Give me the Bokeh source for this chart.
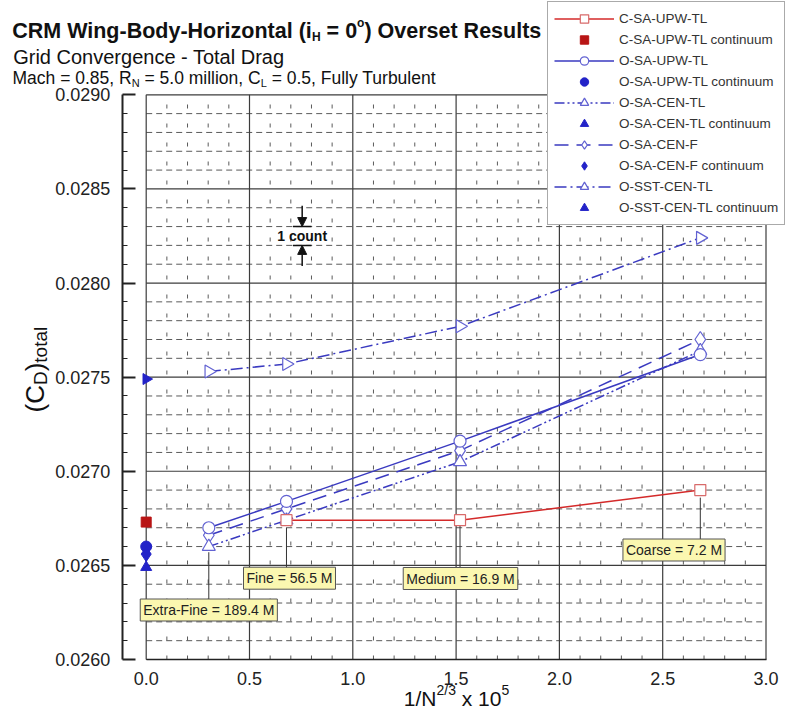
import numpy as np
from bokeh.plotting import figure
from bokeh.models import (Range1d, Label, Legend, LegendItem, FixedTicker,
                          PrintfTickFormatter, Arrow, NormalHead)
from bokeh.embed import file_html
from bokeh.resources import INLINE

# ---------------- data ----------------
grid_labels = ["Extra-Fine = 189.4 M", "Fine = 56.5 M", "Medium = 16.9 M", "Coarse = 7.2 M"]
grid_x = [0.303, 0.679, 1.519, 2.682]           # 1/N^(2/3) x 10^5
c_sa_upw_tl_x = [0.679, 1.519, 2.682]
c_sa_upw_tl = [0.02674, 0.02674, 0.02690]
o_sa_upw_tl = [0.02670, 0.02684, 0.02716, 0.02762]
o_sa_cen_tl = [0.02660, 0.02674, 0.02705, 0.02764]
o_sa_cen_f = [0.02666, 0.02680, 0.02711, 0.02770]
o_sst_cen_tl = [0.02753, 0.02757, 0.02777, 0.02824]
cont_x = [0.0]
c_sa_upw_tl_cont = [0.02673]
o_sa_upw_tl_cont = [0.02660]
o_sa_cen_tl_cont = [0.02649]
o_sa_cen_f_cont = [0.02656]
o_sst_cen_tl_cont = [0.02749]
x_ticks = [0.0, 0.5, 1.0, 1.5, 2.0, 2.5, 3.0]
y_ticks = [0.0260, 0.0265, 0.0270, 0.0275, 0.0280, 0.0285, 0.0290]

# ---------------- layout (frame covers whole canvas) ----------------
W, H = 787, 712
PX0, PX3 = 145.7, 765.5          # pixel of x = 0 and x = 3
PYT, PYB = 94.3, 659.0           # pixel of y = 0.0290 and y = 0.0260
SX = (PX3 - PX0) / 3.0
SY = (PYB - PYT) / 0.003
X0, X1 = -PX0 / SX, (W - PX0) / SX
Y1, Y0 = 0.0290 + PYT / SY, 0.0260 - (H - PYB) / SY


def dx(ix):  # canvas pixel x -> data x
    return X0 + ix / W * (X1 - X0)


def dy(iy):  # canvas pixel y -> data y
    return Y1 - iy / H * (Y1 - Y0)


FONT = "Liberation Sans"
REG = {' ': 278, '(': 333, ')': 333, ',': 278, '-': 333, '.': 278, '/': 278, '=': 584,
       'A': 667, 'B': 667, 'C': 722, 'D': 722, 'E': 667, 'F': 611, 'G': 778, 'H': 722,
       'L': 556, 'M': 833, 'N': 722, 'O': 778, 'R': 722, 'S': 667, 'T': 611, 'U': 722,
       'W': 944, 'a': 556, 'b': 556, 'c': 500, 'd': 556, 'e': 556, 'g': 556, 'h': 556,
       'i': 222, 'l': 222, 'm': 833, 'n': 556, 'o': 556, 'r': 333, 's': 500, 't': 278,
       'u': 556, 'v': 500, 'x': 500, 'y': 500}
BOLD = {' ': 278, '(': 333, ')': 333, '-': 333, '=': 584, 'B': 722, 'C': 722, 'H': 722,
        'M': 833, 'O': 778, 'R': 722, 'W': 944, 'a': 556, 'd': 611, 'e': 556, 'g': 611,
        'i': 278, 'l': 278, 'n': 611, 'o': 611, 'r': 389, 's': 556, 't': 333, 'u': 611,
        'y': 556, 'z': 500}


def tw(s, size, bold=False):
    tab = BOLD if bold else REG
    return sum(tab.get(c, 556) for c in s) / 1000.0 * size


p = figure(width=W, height=H, x_range=Range1d(X0, X1), y_range=Range1d(Y0, Y1),
           output_backend="svg", toolbar_location=None)
p.min_border = 0
p.min_border_left = 0
p.min_border_right = 0
p.min_border_top = 0
p.min_border_bottom = 0
p.outline_line_color = None
p.xgrid.visible = False
p.ygrid.visible = False
p.background_fill_color = "white"
p.border_fill_color = "white"

# ---------------- grid ----------------
xs_all = np.round(np.arange(0, 30.5, 1) / 10.0, 4)
xs_major = [v for v in xs_all if abs(v * 2 - round(v * 2)) < 1e-9]
xs_minor = [v for v in xs_all if v not in xs_major]
ys_all = np.round(np.arange(260, 290.5, 1) / 10000.0, 6)
ys_major = [v for v in ys_all if abs(v * 2000 - round(v * 2000)) < 1e-6]
ys_minor = [v for v in ys_all if v not in ys_major]

GRID_C = "#5a5a5a"
p.segment(x0=xs_minor, y0=0.0260, x1=xs_minor, y1=0.0290, line_color=GRID_C, line_width=1, line_dash="4 15")
p.segment(x0=0.0, y0=ys_minor, x1=3.0, y1=ys_minor, line_color=GRID_C, line_width=1, line_dash="6 4")
p.segment(x0=xs_major, y0=0.0260, x1=xs_major, y1=0.0290, line_color="#3c3c3c", line_width=1.2)
p.segment(x0=0.0, y0=ys_major, x1=3.0, y1=ys_major, line_color="#3c3c3c", line_width=1.2)

# ---------------- axes (drawn at fixed positions inside the canvas) ----------------
xa = p.xaxis[0]
xa.fixed_location = 0.0260
xa.bounds = (0, 3.0)
xa.ticker = FixedTicker(ticks=x_ticks, minor_ticks=xs_minor)
xa.formatter = PrintfTickFormatter(format="%.1f")
xa.major_tick_in = 0
xa.major_tick_out = 0
xa.minor_tick_in = 0
xa.minor_tick_out = 0
xa.axis_line_color = "#222222"
xa.axis_line_width = 1.5
xa.major_label_text_font = FONT
xa.major_label_text_font_size = "18px"
xa.major_label_text_color = "#222222"
xa.major_label_standoff = 12

ya = p.yaxis[0]
ya.fixed_location = dx(121.7)
ya.bounds = (0.0260, 0.0290)
ya.ticker = FixedTicker(ticks=y_ticks, minor_ticks=ys_minor)
ya.formatter = PrintfTickFormatter(format="%.4f")
ya.major_tick_in = 13
ya.major_tick_out = 0
ya.minor_tick_in = 5
ya.minor_tick_out = 0
ya.axis_line_color = "#222222"
ya.axis_line_width = 2
ya.major_tick_line_color = "#222222"
ya.major_tick_line_width = 2
ya.minor_tick_line_color = "#222222"
ya.major_label_text_font = FONT
ya.major_label_text_font_size = "18px"
ya.major_label_text_color = "#222222"
ya.major_label_standoff = 12

# ---------------- leader lines for grid callouts ----------------
lead_top = [0.02657, 0.02670, 0.02671, 0.02686]
box_cx = [dx(208.3), dx(289), dx(460), dx(673.5)]
box_cy = [dy(609.5), dy(577.7), dy(578), dy(549.5)]
p.segment(x0=grid_x, y0=lead_top, x1=grid_x, y1=box_cy, line_color="#333333", line_width=1)

# ---------------- series ----------------
RED = "#d42a2a"
RED_M = "#d86a6a"
BLUE = "#3a3ac0"
BLUE_M = "#6262d2"
BLUE_F = "#2323c8"

r_sst_l = p.line(grid_x, o_sst_cen_tl, line_color=BLUE, line_width=1.5, line_dash="12 4 2 4")
r_sst_m = p.scatter(grid_x, o_sst_cen_tl, marker="triangle", angle=-np.pi / 2, size=13,
                    fill_color="white", line_color=BLUE_M, line_width=1.2)
r_f_l = p.line(grid_x, o_sa_cen_f, line_color=BLUE, line_width=1.5, line_dash="14 8")
r_f_m = p.scatter(grid_x, o_sa_cen_f, marker="diamond", size=16,
                  fill_color="white", line_color=BLUE_M, line_width=1.2)
r_ctl_l = p.line(grid_x, o_sa_cen_tl, line_color=BLUE, line_width=1.5, line_dash="10 3 2 3 2 3")
r_ctl_m = p.scatter(grid_x, o_sa_cen_tl, marker="triangle", size=13,
                    fill_color="white", line_color=BLUE_M, line_width=1.2)
r_upw_l = p.line(grid_x, o_sa_upw_tl, line_color=BLUE, line_width=1.5)
r_upw_m = p.scatter(grid_x, o_sa_upw_tl, marker="circle", size=12,
                    fill_color="white", line_color=BLUE_M, line_width=1.2)
r_c_l = p.line(c_sa_upw_tl_x, c_sa_upw_tl, line_color=RED, line_width=1.5)
r_c_m = p.scatter(c_sa_upw_tl_x, c_sa_upw_tl, marker="square", size=11,
                  fill_color="white", line_color=RED_M, line_width=1.2)

r_c_c = p.scatter(cont_x, c_sa_upw_tl_cont, marker="square", size=10, fill_color="#b81515", line_color="#b81515")
r_upw_c = p.scatter(cont_x, o_sa_upw_tl_cont, marker="circle", size=11, fill_color=BLUE_F, line_color=BLUE_F)
r_f_c = p.scatter(cont_x, o_sa_cen_f_cont, marker="diamond", size=15, fill_color=BLUE_F, line_color=BLUE_F)
r_ctl_c = p.scatter(cont_x, o_sa_cen_tl_cont, marker="triangle", size=11, fill_color=BLUE_F, line_color=BLUE_F)
r_sst_c = p.scatter(cont_x, o_sst_cen_tl_cont, marker="triangle", angle=-np.pi / 2, size=11,
                    fill_color=BLUE_F, line_color=BLUE_F)

# ---------------- callout boxes ----------------
for txt, bx, by in zip(grid_labels, box_cx, box_cy):
    p.add_layout(Label(x=bx, y=by, text=txt, text_align="center", text_baseline="middle",
                       text_font=FONT, text_font_size="14px", text_color="#222222",
                       background_fill_color="#fbf7b0", border_line_color="#555555",
                       border_line_width=1, padding=3))

# ---------------- 1 count marker ----------------
cx = 0.755
p.segment(x0=[0.71, 0.71], y0=[0.0283, 0.0282], x1=[0.80, 0.80], y1=[0.0283, 0.0282],
          line_color="#111111", line_width=1.5)
p.add_layout(Arrow(end=NormalHead(size=9, fill_color="#111111", line_color="#111111"),
                   x_start=cx, y_start=0.02841, x_end=cx, y_end=0.0283,
                   line_color="#111111", line_width=1.5))
p.add_layout(Arrow(end=NormalHead(size=9, fill_color="#111111", line_color="#111111"),
                   x_start=cx, y_start=0.02809, x_end=cx, y_end=0.0282,
                   line_color="#111111", line_width=1.5))
p.add_layout(Label(x=cx, y=dy(235), text="1 count", text_align="center", text_baseline="middle",
                   text_font=FONT, text_font_size="14px", text_font_style="bold", text_color="#111111"))


# ---------------- composite texts (sub/superscripts as separate runs) ----------------
def run_h(x_img, base_img, pieces, color="#111111"):
    cur = x_img
    for txt, size, shift, bold in pieces:
        lead = len(txt) - len(txt.lstrip(" "))
        cur += tw(" " * lead, size, bold)
        body = txt.strip(" ")
        p.add_layout(Label(x=dx(cur), y=dy(base_img + shift), text=body, text_align="left",
                           text_baseline="alphabetic", text_font=FONT, text_font_size=f"{size}px",
                           text_font_style="bold" if bold else "normal", text_color=color))
        cur += tw(txt.lstrip(" "), size, bold)
    return cur


def run_v(base_x_img, y_img, pieces, color="#111111"):
    cur = y_img
    for txt, size, shift, bold in pieces:
        lead = len(txt) - len(txt.lstrip(" "))
        cur -= tw(" " * lead, size, bold)
        p.add_layout(Label(x=dx(base_x_img + shift), y=dy(cur), text=txt.strip(" "), text_align="left",
                           text_baseline="alphabetic", angle=np.pi / 2, text_font=FONT,
                           text_font_size=f"{size}px", text_color=color))
        cur -= tw(txt.lstrip(" "), size, bold)


run_h(11.7, 30.7, [("CRM Wing-Body-Horizontal (i", 21.5, 0, True), ("H", 12, 6, True),
                   (" = 0", 21.5, 0, True), ("o", 12, -8, True), (") Overset Results", 21.5, 0, True)])
run_h(12.7, 56.7, [("Grid Convergence - Total Drag", 20, 0, False)])
run_h(12.0, 77.3, [("Mach = 0.85, R", 17.5, 0, False), ("N", 11, 5, False),
                   (" = 5.0 million, C", 17.5, 0, False), ("L", 11, 5, False),
                   (" = 0.5, Fully Turbulent", 17.5, 0, False)])

xt_pieces = [("1/N", 21, 0, False), ("2/3", 14, -9, False), (" x 10", 21, 0, False), ("5", 14, -9, False)]
xt_w = sum(tw(t, s, b) for t, s, _, b in xt_pieces)
run_h(456 - xt_w / 2, 698, xt_pieces)

run_v(34, 412, [("(C", 26, 0, False), ("D", 19, 6, False), (")", 26, 0, False), ("total", 19, 6, False)])

# ---------------- legend ----------------
items = [
    LegendItem(label="C-SA-UPW-TL", renderers=[r_c_l, r_c_m]),
    LegendItem(label="C-SA-UPW-TL continuum", renderers=[r_c_c]),
    LegendItem(label="O-SA-UPW-TL", renderers=[r_upw_l, r_upw_m]),
    LegendItem(label="O-SA-UPW-TL continuum", renderers=[r_upw_c]),
    LegendItem(label="O-SA-CEN-TL", renderers=[r_ctl_l, r_ctl_m]),
    LegendItem(label="O-SA-CEN-TL continuum", renderers=[r_ctl_c]),
    LegendItem(label="O-SA-CEN-F", renderers=[r_f_l, r_f_m]),
    LegendItem(label="O-SA-CEN-F continuum", renderers=[r_f_c]),
    LegendItem(label="O-SST-CEN-TL", renderers=[r_sst_l, r_sst_m]),
    LegendItem(label="O-SST-CEN-TL continuum", renderers=[r_sst_c]),
]
LEG_H = 2 * 6 + 10 * 21
legend = Legend(items=items, location=(547, H - 3 - LEG_H), glyph_width=60, glyph_height=21,
                label_height=21, spacing=0, padding=6, margin=0, label_standoff=5,
                label_text_font=FONT, label_text_font_size="13.5px", label_text_color="#333333",
                border_line_color="#555555", border_line_width=1,
                background_fill_color="white", background_fill_alpha=1.0)
p.add_layout(legend)

open("out.html", "w").write(file_html(p, INLINE))
